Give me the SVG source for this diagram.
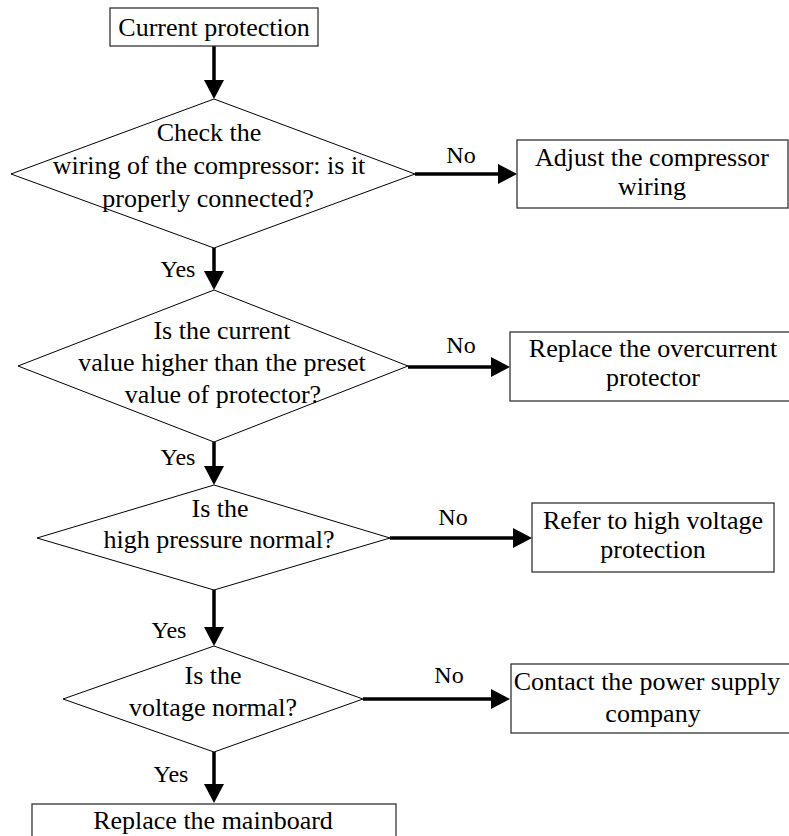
<svg xmlns="http://www.w3.org/2000/svg" width="789" height="836" viewBox="0 0 789 836">
<style>
  .box { fill: #fff; stroke: #333; stroke-width: 1.3; }
  .dia { fill: #fff; stroke: #000; stroke-width: 1; }
  .t { font-family: 'Liberation Serif', 'Times New Roman', 'DejaVu Serif', serif; font-size: 26px; fill: #000; text-anchor: middle; }
  .lbl { font-family: 'Liberation Serif', 'Times New Roman', 'DejaVu Serif', serif; font-size: 24px; fill: #000; text-anchor: middle; }
  .c { stroke: #000; stroke-width: 3.5; fill: none; marker-end: url(#ah); }
</style>
<defs>
  <marker id="ah" markerUnits="userSpaceOnUse" markerWidth="20" markerHeight="20" refX="0" refY="10" orient="auto">
    <path d="M0,0 L19,10 L0,20 z" fill="#000"/>
  </marker>
</defs>
<rect width="789" height="836" fill="#fff"/>

<g id="connectors">
  <path class="c" d="M214,46 V80"/>
  <path class="c" d="M214,248 V271"/>
  <path class="c" d="M214,442 V466"/>
  <path class="c" d="M214,590 V627"/>
  <path class="c" d="M214,752 V784"/>
  <path class="c" d="M415,174 H498"/>
  <path class="c" d="M408,367 H491"/>
  <path class="c" d="M390,538 H513"/>
  <path class="c" d="M363,699 H491"/>
  <g font-family="Liberation Serif">
  <text class="lbl" x="461" y="163">No</text>
  <text class="lbl" x="461" y="353">No</text>
  <text class="lbl" x="453" y="525">No</text>
  <text class="lbl" x="449" y="683">No</text>
  <text class="lbl" x="178" y="277">Yes</text>
  <text class="lbl" x="178" y="465">Yes</text>
  <text class="lbl" x="169" y="638">Yes</text>
  <text class="lbl" x="171" y="782">Yes</text>
  </g>
</g>

<g id="start">
  <rect class="box" x="110" y="8" width="208" height="38"/>
  <text class="t" x="214" y="36">Current protection</text>
</g>

<g id="d1">
  <polygon class="dia" points="214,99 415,174 214,248 11,174"/>
  <text class="t" x="209" y="141">Check the</text>
  <text class="t" x="209" y="174">wiring of the compressor: is it</text>
  <text class="t" x="208" y="207">properly connected?</text>
</g>

<g id="b1">
  <rect class="box" x="517" y="140" width="271" height="68"/>
  <text class="t" x="652" y="166">Adjust the compressor</text>
  <text class="t" x="652" y="195">wiring</text>
</g>

<g id="d2">
  <polygon class="dia" points="214,290 408,366 214,442 18,366"/>
  <text class="t" x="222" y="339">Is the current</text>
  <text class="t" x="222" y="371">value higher than the preset</text>
  <text class="t" x="223" y="403">value of protector?</text>
</g>

<g id="b2">
  <rect class="box" x="510" y="332" width="282" height="69"/>
  <text class="t" x="653" y="357">Replace the overcurrent</text>
  <text class="t" x="653" y="386">protector</text>
</g>

<g id="d3">
  <polygon class="dia" points="214,485 390,538 214,590 37,538"/>
  <text class="t" x="220" y="517">Is the</text>
  <text class="t" x="219" y="548">high pressure normal?</text>
</g>

<g id="b3">
  <rect class="box" x="532" y="503" width="242" height="69"/>
  <text class="t" x="653" y="529">Refer to high voltage</text>
  <text class="t" x="653" y="558">protection</text>
</g>

<g id="d4">
  <polygon class="dia" points="214,646 363,699 214,752 63,699"/>
  <text class="t" x="213" y="684">Is the</text>
  <text class="t" x="213" y="716">voltage normal?</text>
</g>

<g id="b4">
  <rect class="box" x="511" y="664" width="282" height="69"/>
  <text class="t" x="647" y="690">Contact the power supply</text>
  <text class="t" x="653" y="722">company</text>
</g>

<g id="end">
  <rect class="box" x="32" y="804" width="364" height="40"/>
  <text class="t" x="213" y="829">Replace the mainboard</text>
</g>
</svg>
